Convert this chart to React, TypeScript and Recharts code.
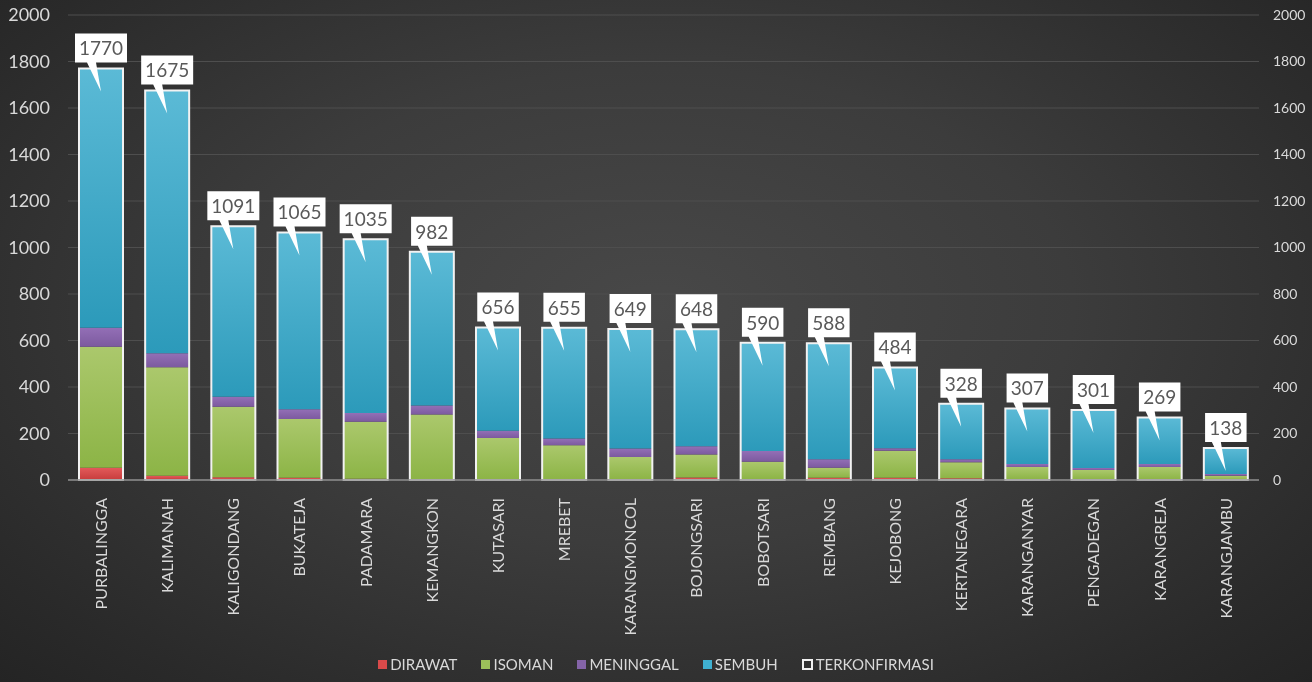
import React from "react"
import {
  ComposedChart,
  Bar,
  XAxis,
  YAxis,
  CartesianGrid,
  Legend,
  LabelList,
} from "recharts"

const kecamatan = [
  "PURBALINGGA", "KALIMANAH", "KALIGONDANG", "BUKATEJA", "PADAMARA", "KEMANGKON",
  "KUTASARI", "MREBET", "KARANGMONCOL", "BOJONGSARI", "BOBOTSARI", "REMBANG",
  "KEJOBONG", "KERTANEGARA", "KARANGANYAR", "PENGADEGAN", "KARANGREJA", "KARANGJAMBU",
]
const dirawat = [53, 18, 12, 10, 5, 3, 2, 2, 2, 11, 3, 10, 10, 7, 2, 1, 1, 0]
const isoman = [520, 467, 303, 252, 246, 279, 179, 148, 97, 99, 76, 43, 116, 69, 54, 42, 55, 18]
const meninggal = [82, 60, 43, 42, 37, 38, 31, 28, 37, 35, 46, 36, 11, 13, 13, 9, 13, 8]
const sembuh = [1115, 1130, 733, 761, 747, 662, 444, 477, 513, 503, 465, 499, 347, 239, 238, 249, 200, 112]
const terkonfirmasi = [1770, 1675, 1091, 1065, 1035, 982, 656, 655, 649, 648, 590, 588, 484, 328, 307, 301, 269, 138]
const yTicks = [0, 200, 400, 600, 800, 1000, 1200, 1400, 1600, 1800, 2000]

const data = kecamatan.map((name, i) => ({
  name,
  dirawat: dirawat[i],
  isoman: isoman[i],
  meninggal: meninggal[i],
  sembuh: sembuh[i],
  terkonfirmasi: terkonfirmasi[i],
}))

const FONT = "Lato, 'Open Sans', sans-serif"
const TXT = "#d9d9d9"

const legendItems = [
  { label: "DIRAWAT", color: "#d94a4a" },
  { label: "ISOMAN", color: "#9cc15a" },
  { label: "MENINGGAL", color: "#8464a8" },
  { label: "SEMBUH", color: "#3fb0d0" },
  { label: "TERKONFIRMASI", color: "none" },
]

function NameTick(props: any) {
  const { x, y, payload } = props
  return (
    <text
      x={x}
      y={y + 10}
      transform={`rotate(-90 ${x} ${y + 10})`}
      textAnchor="end"
      dy="0.36em"
      fill={TXT}
      fontSize={16}
      fontFamily={FONT}
    >
      {payload.value}
    </text>
  )
}

function Callout(props: any) {
  const { x, y, width, value } = props
  const cx = x + width / 2
  const w = String(value).length * 10.5 + 10
  const bx = cx - w / 2
  const by = y - 35
  return (
    <g>
      <path
        d={`M${bx},${by} h${w} v29 H${cx - 5} L${cx},${y + 23} L${cx - 14},${by + 29} H${bx} Z`}
        fill="#ffffff"
      />
      <text
        x={cx}
        y={by + 15}
        dy="0.36em"
        textAnchor="middle"
        fill="#595959"
        fontSize={19}
        fontFamily={FONT}
      >
        {value}
      </text>
    </g>
  )
}

function LegendBox() {
  return (
    <div
      style={{
        height: 36,
        display: "flex",
        justifyContent: "center",
        alignItems: "center",
        fontFamily: FONT,
        fontSize: 15,
        color: TXT,
      }}
    >
      {legendItems.map((it) => (
        <span key={it.label} style={{ display: "flex", alignItems: "center", margin: "0 12px" }}>
          <span
            style={{
              width: it.color === "none" ? 7 : 9,
              height: it.color === "none" ? 7 : 9,
              background: it.color === "none" ? "transparent" : it.color,
              border: it.color === "none" ? "2px solid #f2f2f2" : "none",
              marginRight: 3,
              display: "inline-block",
            }}
          />
          {it.label}
        </span>
      ))}
    </div>
  )
}

export default function App() {
  return (
    <div
      style={{
        position: "fixed",
        left: 0,
        top: 0,
        width: 1312,
        height: 682,
        background:
          "radial-gradient(ellipse at 50% 45%, #484848 0%, #3c3c3c 45%, #2a2a2a 85%, #242424 100%)",
      }}
    >
      <ComposedChart
        width={1312}
        height={682}
        data={data}
        margin={{ top: 15, right: 0, left: 0, bottom: 0 }}
        barSize={44}
        barGap={-44}
        style={{ fontFamily: FONT }}
      >
        <defs>
          <linearGradient id="gRed" x1="0" y1="0" x2="0" y2="1">
            <stop offset="0%" stopColor="#e35a5a" />
            <stop offset="100%" stopColor="#c73c3c" />
          </linearGradient>
          <linearGradient id="gGreen" x1="0" y1="0" x2="0" y2="1">
            <stop offset="0%" stopColor="#abc86c" />
            <stop offset="100%" stopColor="#8cb446" />
          </linearGradient>
          <linearGradient id="gPurple" x1="0" y1="0" x2="0" y2="1">
            <stop offset="0%" stopColor="#936fb6" />
            <stop offset="100%" stopColor="#7c5a9f" />
          </linearGradient>
          <linearGradient id="gBlue" x1="0" y1="0" x2="0" y2="1">
            <stop offset="0%" stopColor="#5bbad6" />
            <stop offset="100%" stopColor="#2c9aba" />
          </linearGradient>
        </defs>
        <CartesianGrid vertical={false} stroke="#4e4e4e" yAxisId="left" />
        <XAxis
          dataKey="name"
          interval={0}
          tick={<NameTick />}
          tickLine={false}
          axisLine={{ stroke: "#8c8c8c", strokeWidth: 1.5 }}
          height={166}
        />
        <YAxis
          yAxisId="left"
          width={68}
          domain={[0, 2000]}
          ticks={yTicks}
          tickLine={false}
          axisLine={false}
          tickMargin={12}
          tick={{ fill: TXT, fontSize: 18, fontFamily: FONT }}
        />
        <YAxis
          yAxisId="right"
          orientation="right"
          width={53}
          domain={[0, 2000]}
          ticks={yTicks}
          tickLine={false}
          axisLine={false}
          tickMargin={8}
          tick={{ fill: TXT, fontSize: 14, fontFamily: FONT }}
        />
        <Legend content={<LegendBox />} verticalAlign="bottom" />
        <Bar yAxisId="left" dataKey="dirawat" name="DIRAWAT" stackId="a" fill="url(#gRed)" isAnimationActive={false} />
        <Bar yAxisId="left" dataKey="isoman" name="ISOMAN" stackId="a" fill="url(#gGreen)" isAnimationActive={false} />
        <Bar yAxisId="left" dataKey="meninggal" name="MENINGGAL" stackId="a" fill="url(#gPurple)" isAnimationActive={false} />
        <Bar yAxisId="left" dataKey="sembuh" name="SEMBUH" stackId="a" fill="url(#gBlue)" isAnimationActive={false} />
        <Bar
          yAxisId="right"
          dataKey="terkonfirmasi"
          name="TERKONFIRMASI"
          fill="none"
          stroke="#f2f2f2"
          strokeWidth={2}
          isAnimationActive={false}
        >
          <LabelList dataKey="terkonfirmasi" content={<Callout />} />
        </Bar>
      </ComposedChart>
    </div>
  )
}
